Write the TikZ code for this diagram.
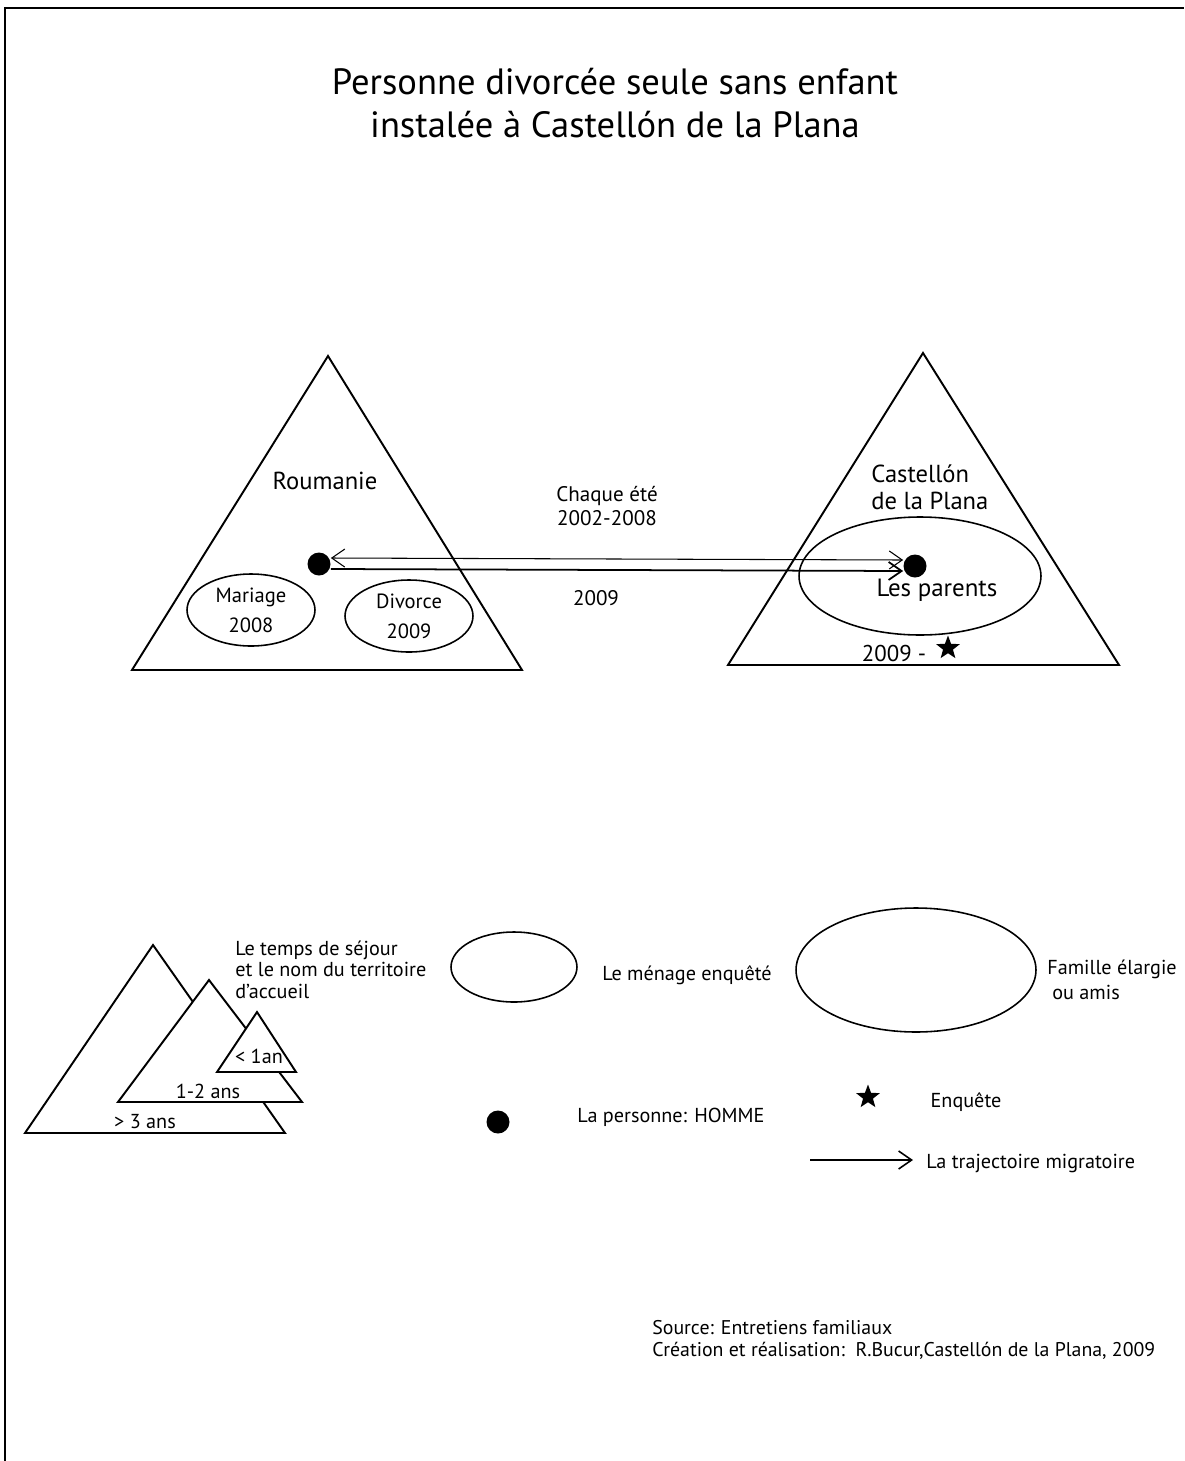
\documentclass[tikz,border=0pt]{standalone}
\usepackage{fontspec}
\setmainfont{PT Sans}
\usetikzlibrary{arrows.meta,positioning,shapes.geometric}
\tikzset{
  terr/.style={draw=black,fill=white,line width=1.1pt,line join=miter},
  hhold/.style={draw=black,ellipse,line width=0.9pt,inner sep=0pt,align=center,
                font=\fontsize{11.7}{17}\selectfont},
  persondot/.style={circle,fill=black,inner sep=0pt,minimum size=0.46cm},
  surveystar/.style={star,star points=5,star point ratio=2.4,fill=black,
                     inner sep=0pt,minimum size=0.5cm},
  migarr/.style={-{Straight Barb[length=2.6mm,width=3.6mm]},line width=0.6pt},
  placelbl/.style={font=\fontsize{14}{15.4}\selectfont,inner sep=0pt,align=left},
  lbl/.style={font=\fontsize{11.5}{12}\selectfont,inner sep=0pt,align=left},
  yearlbl/.style={font=\fontsize{12}{13.7}\selectfont,inner sep=0pt,align=center}
}
\begin{document}
\begin{tikzpicture}[x=0.02cm,y=-0.02cm]
  \useasboundingbox (0,0) rectangle (1184,1461);
  \draw[line width=1.6pt] (5,1461) -- (5,8) -- (1184,8);

  \node[font=\fontsize{20.8}{24}\selectfont,align=center,inner sep=0pt] (title) at (615,103)
    {Personne divorcée seule sans enfant\\instalée à Castellón de la Plana};

  % Roumanie
  \draw[terr] (132,670) -- (328,356) -- (522,670) -- cycle;
  \node[placelbl] (rou) at (325,481) {Roumanie};
  \node[hhold,minimum width=2.56cm,minimum height=1.44cm] (mar) at (251,610) {Mariage\\2008};
  \node[hhold,minimum width=2.56cm,minimum height=1.44cm] (div) at (409,616) {Divorce\\2009};
  \node[persondot] (dotL) at (319,564) {};

  % Castellon
  \draw[terr] (728,665) -- (923,353) -- (1119,665) -- cycle;
  \node[placelbl,anchor=west] (cas) at (871,487) {Castellón\\de la Plana};
  \node[hhold,minimum width=4.84cm,minimum height=2.36cm] (par) at (920,576) {};
  \node[persondot] (dotR) at (915,566) {};
  \node[font=\fontsize{14.2}{15}\selectfont,inner sep=0pt] (partxt) at (937,590) {Les parents};
  \node[font=\fontsize{13}{15}\selectfont,inner sep=0pt] (since) at (894,653) {2009 -};
  \node[surveystar] (starR) at (948,648) {};

  \draw[migarr,{Straight Barb[length=2.6mm,width=3.6mm]}-{Straight Barb[length=2.6mm,width=3.6mm]}]
    ([yshift=0.12cm]dotL.east) -- ([yshift=0.12cm]dotR.west);
  \draw[migarr,line width=1pt] ([yshift=-0.1cm]dotL.east) -- ([yshift=-0.1cm]dotR.west);
  \node[yearlbl] (summer) at (607,506) {Chaque été\\2002-2008};
  \node[yearlbl] (move) at (596,598) {2009};

  % legende
  \draw[terr] (25,1133) -- (153,945) -- (285,1133) -- cycle;
  \draw[terr] (118,1102) -- (209,980) -- (302,1102) -- cycle;
  \draw[terr] (217,1072) -- (257,1012) -- (296,1072) -- cycle;
  \node[lbl] (t3) at (145,1122) {> 3 ans};
  \node[lbl] (t2) at (208,1091) {1-2 ans};
  \node[lbl] (t1) at (259,1056) {< 1an};
  \node[lbl,anchor=north west] (tleg) at (235,941)
    {Le temps de séjour\\et le nom du territoire\\d'accueil};

  \node[hhold,minimum width=2.52cm,minimum height=1.4cm] (menage) at (514,967) {};
  \node[lbl] (mentxt) at (687,975) {Le ménage enquêté};
  \node[hhold,minimum width=4.8cm,minimum height=2.48cm] (fam) at (916,970) {};
  \node[lbl,anchor=west,font=\fontsize{11.5}{14}\selectfont] (famtxt) at (1047,980)
    {Famille élargie\\\hspace*{0.1cm}ou amis};

  \node[persondot] (dotleg) at (498,1122) {};
  \node[lbl] (pertxt) at (671,1117) {La personne: HOMME};
  \node[surveystar] (starleg) at (868,1097) {};
  \node[lbl] (enqtxt) at (966,1102) {Enquête};
  \coordinate (arrS) at (810,1160);
  \coordinate (arrE) at (913,1160);
  \draw[migarr,line width=0.9pt] (arrS) -- (arrE);
  \node[lbl,anchor=west] (trajtxt) at (926,1163) {La trajectoire migratoire};

  \node[lbl,anchor=north west,font=\fontsize{11.3}{12.5}\selectfont] (src) at (652,1320)
    {Source: Entretiens familiaux\\Création et réalisation:\ \ R.Bucur,Castellón de la Plana, 2009};
\end{tikzpicture}
\end{document}
